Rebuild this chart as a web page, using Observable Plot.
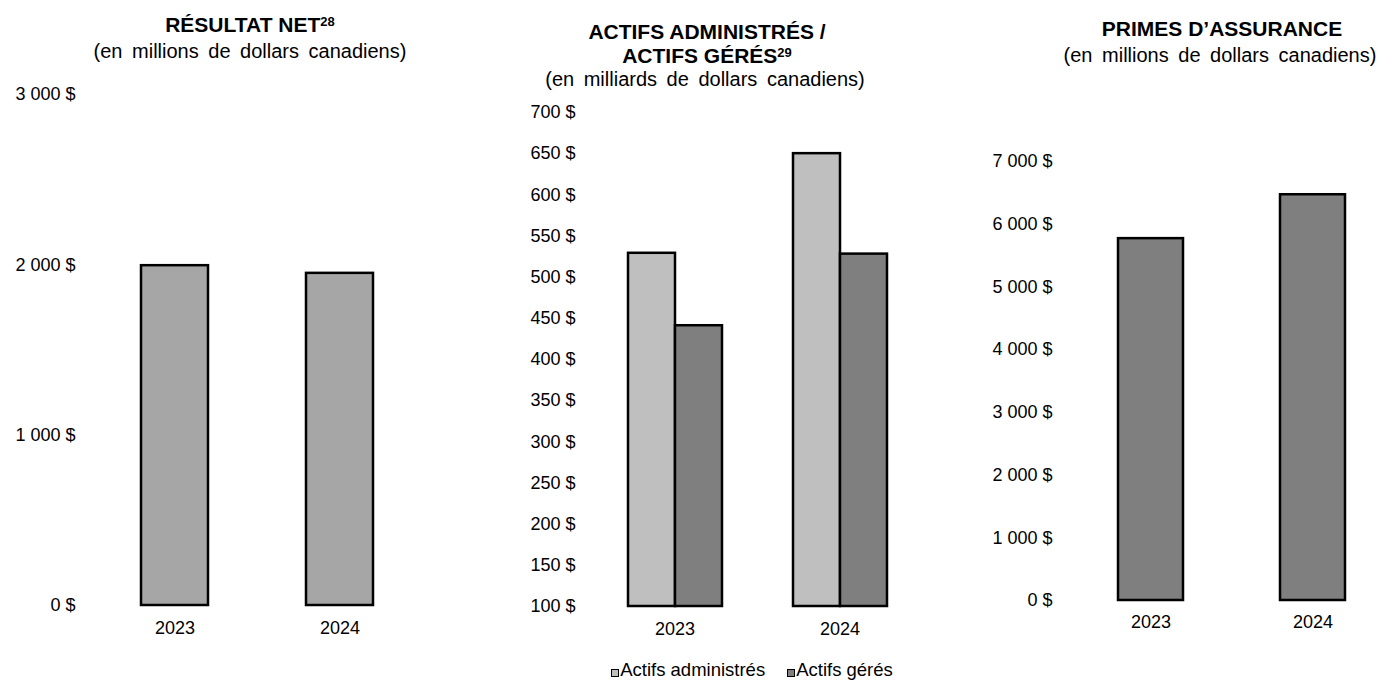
<!DOCTYPE html>
<html>
<head>
<meta charset="utf-8">
<script src="https://cdn.jsdelivr.net/npm/d3@7"></script>
<script src="https://cdn.jsdelivr.net/npm/@observablehq/plot@0.6"></script>
<style>
  html, body { margin: 0; padding: 0; background: #fff; }
  #root { position: relative; width: 1380px; height: 682px; overflow: hidden; font-family: "Liberation Sans", Arial, sans-serif; color: #000; }
  .t { position: absolute; width: 500px; text-align: center; white-space: nowrap; }
  .b { font-weight: bold; font-size: 21px; line-height: 24px; }
  .s { font-size: 20px; line-height: 26px; word-spacing: 4px; }
  .b sup { font-size: 13px; line-height: 0; vertical-align: 6px; }
  .chart { position: absolute; }
  .legend { position: absolute; top: 659px; left: 460px; width: 584px; text-align: center; font-size: 18.5px; line-height: 22px; white-space: nowrap; }
  .legend .item { display: inline-block; margin: 0 11px; }
  .legend .sw { display: inline-block; width: 6px; height: 6px; border: 1.5px solid #000; vertical-align: -1px; margin-right: 1px; }
</style>
</head>
<body>
<div id="root">
  <div class="t b" style="left:0px; top:13px;">RÉSULTAT NET<sup>28</sup></div>
  <div class="t s" style="left:0px; top:38.4px;">(en millions de dollars canadiens)</div>

  <div class="t b" style="left:457px; top:20px;">ACTIFS ADMINISTRÉS /<br>ACTIFS GÉRÉS<sup>29</sup></div>
  <div class="t s" style="left:455px; top:66px;">(en milliards de dollars canadiens)</div>

  <div class="t b" style="left:972px; top:17.4px;">PRIMES D’ASSURANCE</div>
  <div class="t s" style="left:970px; top:41.8px;">(en millions de dollars canadiens)</div>

  <div id="c1" class="chart" style="left:0px; top:80px;"></div>
  <div id="c2" class="chart" style="left:460px; top:100px;"></div>
  <div id="c3" class="chart" style="left:920px; top:100px;"></div>
  <div id="legend" class="legend"></div>
</div>
<script>
// ---- data ----
const years = ["2023", "2024"];
const netIncome = [1995, 1950];           // millions $ CA
const seriesNames = ["Actifs administrés", "Actifs gérés"];
const assetsAdministered = [529, 650];    // billions $ CA
const assetsManaged = [441, 528];         // billions $ CA
const premiums = [5770, 6470];            // millions $ CA
const ticks1 = [0, 1000, 2000, 3000];
const ticks2 = [100, 150, 200, 250, 300, 350, 400, 450, 500, 550, 600, 650, 700];
const ticks3 = [0, 1000, 2000, 3000, 4000, 5000, 6000, 7000];
const seriesColors = ["#bfbfbf", "#7f7f7f"];

// ---- helpers ----
const fmt = d => d3.format(",")(d).replace(/,/g, " ") + " $";
const style = { fontFamily: "'Liberation Sans', Arial, sans-serif", fontSize: "18px", color: "#000", background: "transparent", overflow: "visible" };

const netData = years.map((y, i) => ({ year: y, value: netIncome[i] }));
const premData = years.map((y, i) => ({ year: y, value: premiums[i] }));
const assetData = years.flatMap((y, i) => [
  { year: y, series: seriesNames[0], value: assetsAdministered[i] },
  { year: y, series: seriesNames[1], value: assetsManaged[i] }
]);

// Chart 1
const c1 = Plot.plot({
  width: 460, height: 570,
  marginTop: 14, marginBottom: 45, marginLeft: 78, marginRight: 10,
  style,
  x: { domain: years, range: [140, 373], paddingInner: 0.595, paddingOuter: 0, label: null },
  y: { domain: [0, 3000], label: null },
  marks: [
    Plot.barY(netData, { x: "year", y: "value", fill: "#a6a6a6", stroke: "#000", strokeWidth: 2.5 }),
    Plot.axisY({ ticks: ticks1, tickFormat: fmt, tickSize: 0, tickPadding: 3, label: null }),
    Plot.axisX({ tickSize: 0, tickPadding: 16, label: null })
  ]
});
document.getElementById("c1").appendChild(c1);

// Chart 2
const c2 = Plot.plot({
  width: 460, height: 550,
  marginTop: 12, marginBottom: 44, marginLeft: 167, marginRight: 32,
  style,
  fx: { domain: years, paddingInner: 0.4217, paddingOuter: 0, label: null },
  x: { domain: seriesNames, padding: 0, axis: null },
  y: { domain: [100, 700], label: null },
  color: { domain: seriesNames, range: seriesColors },
  marks: [
    Plot.barY(assetData, { fx: "year", x: "series", y1: 100, y2: "value", fill: "series", stroke: "#000", strokeWidth: 2.5 }),
    Plot.axisY({ ticks: ticks2, tickFormat: fmt, tickSize: 0, tickPadding: 52, label: null }),
    Plot.axisFx({ anchor: "bottom", tickSize: 0, tickPadding: 16, label: null })
  ]
});
document.getElementById("c2").appendChild(c2);

// Chart 3
const c3 = Plot.plot({
  width: 460, height: 550,
  marginTop: 61, marginBottom: 50, marginLeft: 135, marginRight: 10,
  style,
  x: { domain: years, range: [198, 426], paddingInner: 0.596, paddingOuter: 0, label: null },
  y: { domain: [0, 7000], label: null },
  marks: [
    Plot.barY(premData, { x: "year", y: "value", fill: "#7f7f7f", stroke: "#000", strokeWidth: 2.5 }),
    Plot.axisY({ ticks: ticks3, tickFormat: fmt, tickSize: 0, tickPadding: 3, label: null }),
    Plot.axisX({ tickSize: 0, tickPadding: 15, label: null })
  ]
});
document.getElementById("c3").appendChild(c3);

// Legend
const lg = document.getElementById("legend");
seriesNames.forEach((name, i) => {
  const item = document.createElement("span");
  item.className = "item";
  const sw = document.createElement("span");
  sw.className = "sw";
  sw.style.background = seriesColors[i];
  item.appendChild(sw);
  item.appendChild(document.createTextNode(name));
  lg.appendChild(item);
});
</script>
</body>
</html>
